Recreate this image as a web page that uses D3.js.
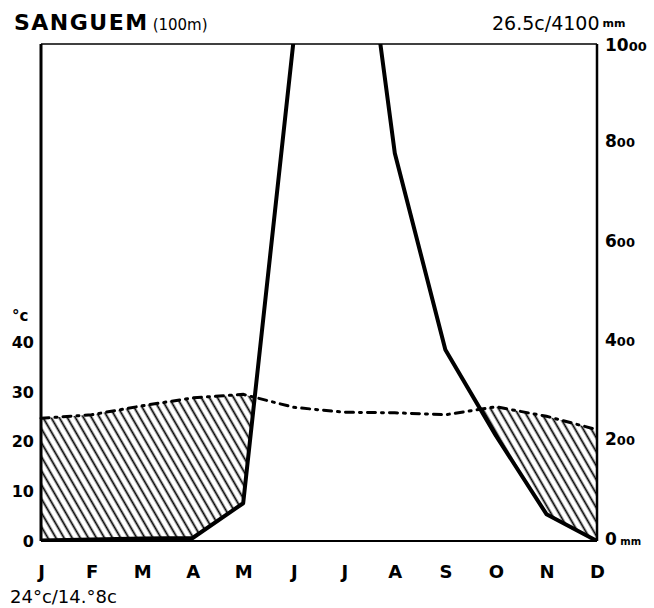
<!DOCTYPE html>
<html>
<head>
<meta charset="utf-8">
<script src="https://cdn.jsdelivr.net/npm/d3@7"></script>
<style>
  body { margin: 0; background: #fff; }
  svg { display: block; }
  text { font-family: "DejaVu Sans", sans-serif; font-weight: bold; fill: #000; }
</style>
</head>
<body>
<svg id="chart"></svg>
<script>
// climate diagram - Sanguem
const months = ['J', 'F', 'M', 'A', 'M', 'J', 'J', 'A', 'S', 'O', 'N', 'D']
const temp = [24.7, 25.4, 27.2, 28.8, 29.5, 26.9, 25.9, 25.8, 25.4, 27.0, 25.1, 22.4]
const precip = [1, 3, 5, 6, 76, 1010, 1550, 780, 385, 212, 54, 0]
const tempTicks = [0, 10, 20, 30, 40]
const precipTicks = [0, 200, 400, 600, 800, 1000]

const W = 654, H = 608
const plotL = 41, plotR = 597, plotT = 44, plotB = 541

const svg = d3.select('#chart').attr('width', W).attr('height', H)

const x = d3.scalePoint()
    .domain(months.map((m, i) => i))
    .range([plotL, plotR])
const y = d3.scaleLinear()
    .domain([0, 1000])
    .range([plotB, plotT])
// 1 degree = 10 mm
const yT = d3.scaleLinear()
    .domain([0, 100])
    .range([plotB, plotT])

const defs = svg.append('defs')

// hatch pattern, lines leaning like "\"
const pat = defs.append('pattern')
    .attr('id', 'hatch')
    .attr('patternUnits', 'userSpaceOnUse')
    .attr('width', 7)
    .attr('height', 7)
    .attr('patternTransform', 'rotate(-30)')
pat.append('line')
    .attr('x1', 3.5).attr('y1', 0)
    .attr('x2', 3.5).attr('y2', 7)
    .attr('stroke', '#000')
    .attr('stroke-width', 1.8)

defs.append('clipPath').attr('id', 'plotClip')
    .append('rect')
    .attr('x', plotL).attr('y', plotT)
    .attr('width', plotR - plotL).attr('height', plotB - plotT)

// area under the temperature curve
const underTemp = d3.area()
    .x((d, i) => x(i))
    .y0(plotB)
    .y1(d => yT(d))
defs.append('clipPath').attr('id', 'tempClip')
    .append('path')
    .attr('d', underTemp(temp))

// area above the rainfall curve
const abovePrecip = d3.area()
    .x((d, i) => x(i))
    .y0(d => y(Math.min(d, 1000)))
    .y1(plotT)
defs.append('clipPath').attr('id', 'precipClip')
    .append('path')
    .attr('d', abovePrecip(precip))

// dry season hatching
svg.append('g')
    .attr('clip-path', 'url(#tempClip)')
    .append('g')
    .attr('clip-path', 'url(#precipClip)')
    .append('rect')
    .attr('x', plotL).attr('y', plotT)
    .attr('width', plotR - plotL).attr('height', plotB - plotT)
    .attr('fill', 'url(#hatch)')

// frame
svg.append('line').attr('x1', plotL).attr('x2', plotR).attr('y1', plotT).attr('y2', plotT)
    .attr('stroke', '#000').attr('stroke-width', 1.6)
svg.append('line').attr('x1', plotL).attr('x2', plotR).attr('y1', plotB).attr('y2', plotB)
    .attr('stroke', '#000').attr('stroke-width', 2)
svg.append('line').attr('x1', plotL).attr('x2', plotL).attr('y1', plotT).attr('y2', plotB)
    .attr('stroke', '#000').attr('stroke-width', 3)
svg.append('line').attr('x1', plotR).attr('x2', plotR).attr('y1', plotT).attr('y2', plotB)
    .attr('stroke', '#000').attr('stroke-width', 2.5)

// temperature line
const tLine = d3.line()
    .x((d, i) => x(i))
    .y(d => yT(d))
svg.append('path')
    .attr('d', tLine(temp))
    .attr('fill', 'none')
    .attr('stroke', '#000')
    .attr('stroke-width', 3)
    .attr('stroke-dasharray', '8,6,2,6')
    .attr('stroke-linecap', 'round')

// rainfall line
const pLine = d3.line()
    .x((d, i) => x(i))
    .y(d => y(d))
svg.append('g')
    .attr('clip-path', 'url(#plotClip)')
    .append('path')
    .attr('d', pLine(precip))
    .attr('fill', 'none')
    .attr('stroke', '#000')
    .attr('stroke-width', 4)
    .attr('stroke-linejoin', 'round')

// left axis (deg C)
const yAxisL = d3.axisLeft(yT)
    .tickValues(tempTicks)
    .tickSize(0)
    .tickPadding(7)
const gL = svg.append('g')
    .attr('transform', `translate(${plotL},0)`)
    .call(yAxisL)
gL.select('.domain').remove()
gL.selectAll('text')
    .style('font-size', '16px')
    .style('font-family', '"DejaVu Sans", sans-serif')
    .style('font-weight', 'bold')
svg.append('text')
    .attr('x', 12).attr('y', 321)
    .style('font-size', '15px')
    .text('°c')

// right axis (mm)
const yAxisR = d3.axisRight(y)
    .tickValues(precipTicks)
    .tickSize(0)
    .tickPadding(8)
    .tickFormat(d => d)
const gR = svg.append('g')
    .attr('transform', `translate(${plotR},0)`)
    .call(yAxisR)
gR.select('.domain').remove()
gR.selectAll('text')
    .style('font-family', '"DejaVu Sans", sans-serif')
    .style('font-weight', 'bold')
    .each(function (d) {
        const t = d3.select(this)
        t.text(null)
        if (d === 0) {
            t.append('tspan').style('font-size', '17px').text('0')
            t.append('tspan').style('font-size', '10px').text(' mm')
        } else {
            const s = String(d)
            t.append('tspan').style('font-size', '17px').text(s.slice(0, s.length - 2))
            t.append('tspan').style('font-size', '13px').text(s.slice(-2))
        }
    })
gR.selectAll('.tick').filter(d => d === 1000)
    .select('text').attr('dy', '0.6em')

// month labels
const xAxis = d3.axisBottom(x)
    .tickSize(0)
    .tickPadding(24)
    .tickFormat(i => months[i])
const gX = svg.append('g')
    .attr('transform', `translate(0,${plotB})`)
    .call(xAxis)
gX.select('.domain').remove()
gX.selectAll('text')
    .style('font-size', '18px')
    .style('font-family', '"DejaVu Sans", sans-serif')
    .style('font-weight', 'bold')

// titles
const title = svg.append('text').attr('x', 14).attr('y', 30)
title.append('tspan')
    .style('font-size', '22px')
    .style('letter-spacing', '1.5px')
    .text('SANGUEM')
title.append('tspan')
    .attr('dx', 4)
    .style('font-size', '15px')
    .style('font-weight', 'normal')
    .text('(100m)')

const sub = svg.append('text').attr('x', 492).attr('y', 30)
sub.append('tspan').style('font-size', '19px').style('font-weight', 'normal').text('26.5c/4100')
sub.append('tspan').attr('dx', 3).attr('dy', -3).style('font-size', '11px').text('mm')

svg.append('text')
    .attr('x', 10).attr('y', 603)
    .style('font-size', '18px')
    .style('font-weight', 'normal')
    .text('24°c/14.°8c')
</script>
</body>
</html>
